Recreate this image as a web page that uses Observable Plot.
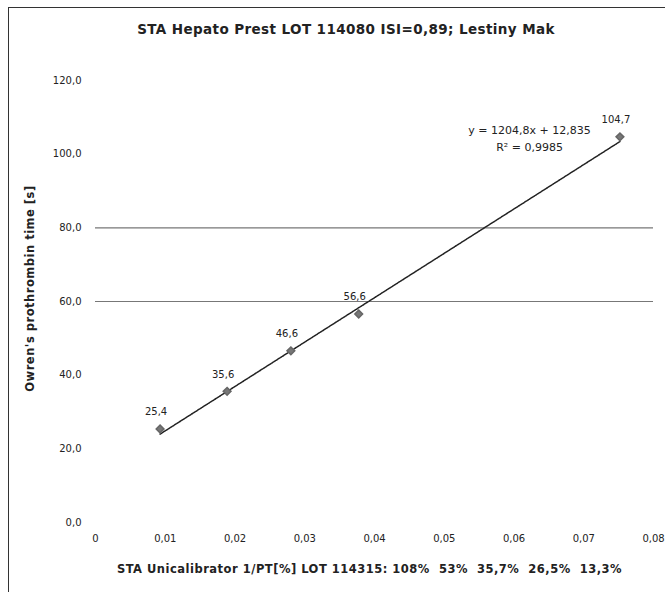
<!DOCTYPE html>
<html>
<head>
<meta charset="utf-8">
<script src="https://cdn.jsdelivr.net/npm/d3@7"></script>
<script src="https://cdn.jsdelivr.net/npm/@observablehq/plot@0.6"></script>
<style>
  body { margin: 0; background: #fff; font-family: "DejaVu Sans", sans-serif; }
  #wrap { position: relative; width: 665px; height: 592px; overflow: hidden; }
  #frame { position: absolute; left: 8px; top: 7px; width: 680px; height: 620px; border: 1.5px solid #333; box-sizing: border-box; }
  #title { position: absolute; left: 0; width: 692px; top: 21px; text-align: center; font-size: 13.5px; letter-spacing: 0.4px; font-weight: bold; color: #222; }
  #chart { position: absolute; left: 0; top: 0; }
</style>
</head>
<body>
<div id="wrap">
  <div id="frame"></div>
  <div id="title">STA Hepato Prest LOT 114080 ISI=0,89; Lestiny Mak</div>
  <div id="chart"></div>
</div>
<script>
const percents = [108, 53, 35.7, 26.5, 13.3];
const xValues = percents.map(p => 1 / p);
const yValues = [25.4, 35.6, 46.6, 56.6, 104.7];
const pointLabels = ["25,4", "35,6", "46,6", "56,6", "104,7"];
const yTicks = [0, 20, 40, 60, 80, 100, 120];
const xTicks = [0, 0.01, 0.02, 0.03, 0.04, 0.05, 0.06, 0.07, 0.08];
const gridLines = [60, 80];
const slope = 1204.8, intercept = 12.835;
const equationLines = ["y = 1204,8x + 12,835", "R² = 0,9985"];
const xTitle = "STA Unicalibrator 1/PT[%] LOT 114315: 108%  53%  35,7%  26,5%  13,3%";
const yTitle = "Owren's prothrombin time [s]";

const data = xValues.map((x, i) => ({x, y: yValues[i], label: pointLabels[i]}));
const trend = [xValues[0], xValues[xValues.length - 1]].map(x => ({x, y: slope * x + intercept}));
const fmt = v => v === 0 ? "0" : d3.format(".2f")(v).replace(".", ",");
const fmtY = v => d3.format(".1f")(v).replace(".", ",");

const plot = Plot.plot({
  width: 665,
  height: 592,
  marginLeft: 95,
  marginRight: 12,
  marginTop: 80,
  marginBottom: 70,
  style: {fontFamily: "'DejaVu Sans', sans-serif", fontSize: "10px", color: "#222", background: "transparent"},
  x: {domain: [0, 0.08], ticks: xTicks, tickFormat: fmt, tickSize: 0, tickPadding: 12, label: null},
  y: {domain: [0, 120], ticks: yTicks, tickFormat: fmtY, tickSize: 0, tickPadding: 14, label: null},
  marks: [
    Plot.ruleY(gridLines, {stroke: "#777", strokeWidth: 1.2, x1: 0, x2: 0.08}),
    Plot.line(trend, {x: "x", y: "y", stroke: "#222", strokeWidth: 1.5, strokeDasharray: "1.5,1"}),
    Plot.dot(data, {x: "x", y: "y", symbol: "diamond2", r: 3.5, fill: "#777", stroke: "#666"}),
    Plot.text(data, {x: "x", y: "y", text: "label", dx: -4, dy: -17, fontSize: 10, fill: "#222"}),
    Plot.text([equationLines.join("\n")], {frameAnchor: "top-right", dx: -124, dy: 42, textAnchor: "middle", fontSize: 11, fill: "#222", lineHeight: 1.5}),
    Plot.text([xTitle], {frameAnchor: "bottom", dx: -5, dy: 50, fontSize: 11.5, fontWeight: "bold", fill: "#222"}),
    Plot.text([yTitle], {frameAnchor: "left", textAnchor: "middle", dx: -65, dy: -13, rotate: -90, fontSize: 11.5, fontWeight: "bold", fill: "#222"})
  ]
});
plot.querySelectorAll("text").forEach(t => {
  if (t.textContent === xTitle || t.textContent === yTitle) t.setAttribute("letter-spacing", "0.5");
});
document.getElementById("chart").appendChild(plot);
</script>
</body>
</html>
